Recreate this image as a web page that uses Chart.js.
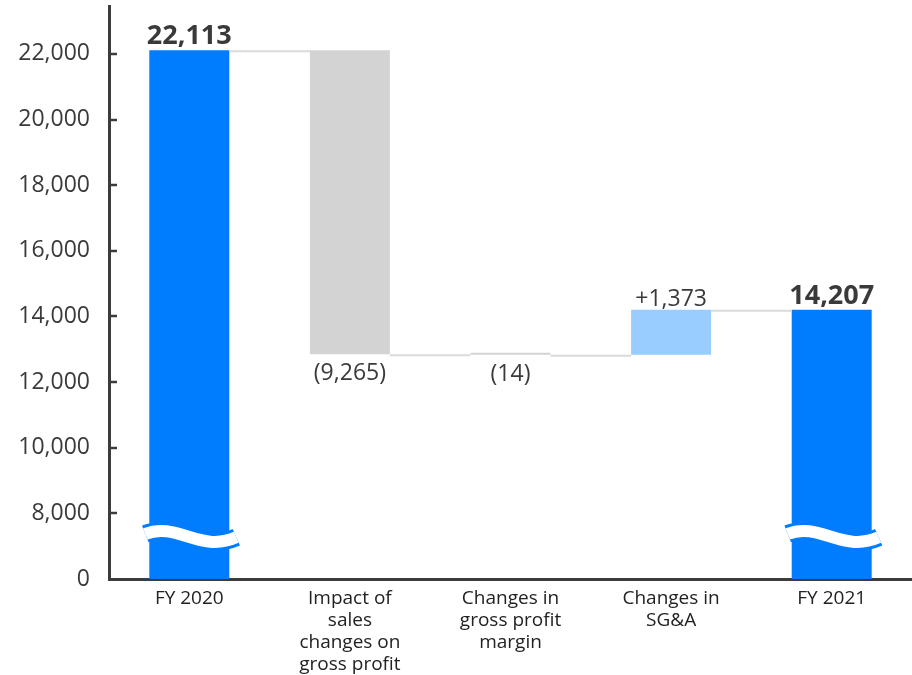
<!DOCTYPE html>
<html>
<head>
<meta charset="utf-8">
<script src="https://cdn.jsdelivr.net/npm/chart.js@4.4.1/dist/chart.umd.min.js"></script>
<style>
  html, body { margin: 0; padding: 0; background: #fff; }
  #wrap { width: 912px; height: 675px; }
</style>
</head>
<body>
<div id="wrap"><canvas id="chart"></canvas></div>
<script>
// ── data ──────────────────────────────────────────────────────────
const categories = [
  'FY 2020',
  ['Impact of', 'sales', 'changes on', 'gross profit'],
  ['Changes in', 'gross profit', 'margin'],
  ['Changes in', 'SG&A'],
  'FY 2021'
];
const startValue = 22113;
const changes    = [-9265, -14, 1373];
const endValue   = 14207;

const yTicks      = [6000, 8000, 10000, 12000, 14000, 16000, 18000, 20000, 22000];
const yTickLabels = ['0', '8,000', '10,000', '12,000', '14,000', '16,000', '18,000', '20,000', '22,000'];

// axis is cut below 8,000; the bottom of the scale stands for 0
const AXIS_MIN = 6000, AXIS_MAX = 23460, BREAK_AT = 7300;

const BLUE = '#007cff', LIGHT_BLUE = '#99ccff', GRAY = '#d3d3d3';
const TEXT = '#3a3a3a';
const FONT = "'Open Sans', 'Noto Sans', sans-serif";

// floating ranges + running totals for the connectors
const ranges = [[0, startValue]];
const levels = [startValue];
let running = startValue;
changes.forEach(c => {
  const next = running + c;
  ranges.push([Math.min(running, next), Math.max(running, next)]);
  levels.push(next);
  running = next;
});
ranges.push([0, endValue]);

const barColors = [BLUE, ...changes.map(c => c < 0 ? GRAY : LIGHT_BLUE), BLUE];

const fmt = v => Math.abs(v).toLocaleString('en-US');
const valueLabels = [
  { text: fmt(startValue), bold: true, above: true },
  ...changes.map(c => ({ text: c < 0 ? '(' + fmt(c) + ')' : '+' + fmt(c), bold: false, above: c > 0 })),
  { text: fmt(endValue), bold: true, above: true }
];

// ── extras: connectors, axis break, inner ticks, value labels ─────
const waterfallDecor = {
  id: 'waterfallDecor',
  afterDatasetsDraw(chart) {
    const ctx = chart.ctx;
    const meta = chart.getDatasetMeta(0);
    const y = chart.scales.y;
    const area = chart.chartArea;

    ctx.save();

    // connectors between bars
    ctx.strokeStyle = '#dadada';
    ctx.lineWidth = 2;
    for (let i = 0; i < levels.length; i++) {
      const a = meta.data[i], b = meta.data[i + 1];
      const py = y.getPixelForValue(levels[i]) + 1;
      ctx.beginPath();
      ctx.moveTo(a.x + a.width / 2, py);
      ctx.lineTo(b.x - b.width / 2, py);
      ctx.stroke();
    }

    // wavy break on the two totals
    [0, meta.data.length - 1].forEach(i => {
      const bar = meta.data[i];
      const x0 = bar.x - bar.width / 2 - 4;
      const w = bar.width + 11;
      const c = y.getPixelForValue(BREAK_AT);
      const wave = () => {
        ctx.beginPath();
        ctx.moveTo(x0, c - 2.5);
        ctx.bezierCurveTo(x0 + 0.35 * w, c - 15, x0 + 0.6 * w, c + 17, x0 + w, c + 1);
      };
      ctx.lineCap = 'butt';
      wave(); ctx.strokeStyle = barColors[i]; ctx.lineWidth = 18; ctx.stroke();
      wave(); ctx.strokeStyle = '#ffffff'; ctx.lineWidth = 12; ctx.stroke();
    });

    // tick marks pointing into the plot
    ctx.strokeStyle = '#3c3c3c';
    ctx.lineWidth = 2.5;
    yTicks.slice(1).forEach(v => {
      const py = Math.round(y.getPixelForValue(v));
      ctx.beginPath();
      ctx.moveTo(area.left, py);
      ctx.lineTo(area.left + 8, py);
      ctx.stroke();
    });

    // value labels
    ctx.fillStyle = TEXT;
    ctx.textAlign = 'center';
    ctx.textBaseline = 'alphabetic';
    valueLabels.forEach((lab, i) => {
      const bar = meta.data[i];
      const top = Math.min(bar.y, bar.base), bottom = Math.max(bar.y, bar.base);
      if (lab.bold) {
        ctx.font = 'bold 27px ' + FONT;
        ctx.fillText(lab.text, bar.x, top - 6);
      } else if (lab.above) {
        ctx.font = '23px ' + FONT;
        ctx.fillText(lab.text, bar.x, top - 4);
      } else {
        ctx.font = '23px ' + FONT;
        ctx.fillText(lab.text, bar.x, bottom + 26);
      }
    });

    ctx.restore();
  }
};

new Chart(document.getElementById('chart'), {
  type: 'bar',
  data: {
    labels: categories,
    datasets: [{
      data: ranges,
      backgroundColor: barColors,
      borderWidth: 0,
      barPercentage: 1,
      categoryPercentage: 0.498,
      minBarLength: 2
    }]
  },
  options: {
    responsive: true,
    maintainAspectRatio: false,
    animation: false,
    layout: { padding: { top: 6, right: 0, bottom: 0, left: 0 } },
    plugins: { legend: { display: false }, tooltip: { enabled: false } },
    scales: {
      x: {
        grid: { display: false, drawTicks: false },
        border: { display: true, color: '#3c3c3c', width: 3 },
        ticks: { color: '#222', font: { family: FONT, size: 19, lineHeight: 1.17 }, padding: 8, maxRotation: 0, autoSkip: false },
        afterFit(s) { s.height = 96; s.paddingLeft = 0; s.paddingRight = 0; }
      },
      y: {
        min: AXIS_MIN,
        max: AXIS_MAX,
        afterBuildTicks(s) { s.ticks = yTicks.map(v => ({ value: v })); },
        grid: { display: false, drawTicks: false },
        border: { display: true, color: '#3c3c3c', width: 3 },
        ticks: { color: TEXT, font: { family: FONT, size: 23 }, padding: 19, callback: (v, i) => yTickLabels[i] },
        afterFit(s) { s.width = 109; s.paddingTop = 0; s.paddingBottom = 0; }
      }
    }
  },
  plugins: [waterfallDecor]
});
</script>
</body>
</html>
